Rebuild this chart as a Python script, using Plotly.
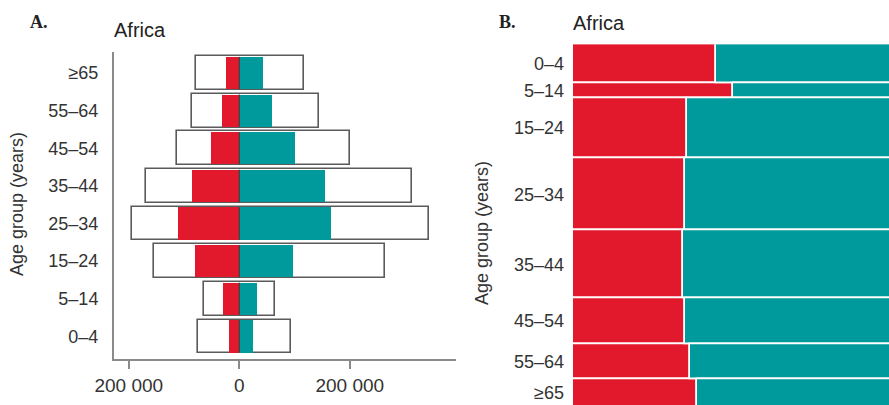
import plotly.graph_objects as go

# Age groups, youngest first
age_groups = ["0–4", "5–14", "15–24", "25–34", "35–44", "45–54", "55–64", "≥65"]

# Panel A: population (outline boxes) and cases (filled bars), left / right of zero
population_left = [74700, 64400, 154400, 193600, 169400, 112000, 85600, 78400]
population_right = [93000, 65200, 263200, 344000, 312000, 200400, 144200, 117100]
cases_left = [18600, 30000, 79600, 110400, 85600, 51800, 31900, 24100]
cases_right = [25400, 32600, 96600, 165400, 155100, 101400, 58600, 42300]

x_tickvals = [-200000, 0, 200000]
x_ticktext = ["200 000", "0", "200 000"]

# Panel B: share of each age group (row height, %) and red share within the row
group_share = [10.7, 4.1, 16.5, 20.1, 18.5, 12.7, 9.6, 7.8]
red_share = [0.42, 0.47, 0.335, 0.33, 0.325, 0.33, 0.345, 0.365]

RED = "#e2192c"
TEAL = "#009a9d"
AXIS = "#8a8a8a"
TEXT = "#333333"
FONT = "Liberation Sans, Arial, sans-serif"

W, H = 889, 405
BAR_W = 0.86

fig = go.Figure()

# ---- Panel A: pyramid ----
pos = list(range(len(age_groups)))
box_total = [l + r for l, r in zip(population_left, population_right)]
fig.add_trace(go.Bar(
    y=pos, x=box_total, base=[-v for v in population_left], orientation="h",
    width=0.9, marker=dict(color="white", line=dict(color="#5a5a5a", width=1.6)),
    xaxis="x", yaxis="y", showlegend=False, name="Population",
))
fig.add_trace(go.Bar(
    y=pos, x=cases_left, base=[-v for v in cases_left], orientation="h",
    width=BAR_W, marker=dict(color=RED, line=dict(width=0)),
    xaxis="x", yaxis="y", showlegend=False, name="Cases (left)",
))
fig.add_trace(go.Bar(
    y=pos, x=cases_right, base=0, orientation="h",
    width=BAR_W, marker=dict(color=TEAL, line=dict(width=0)),
    xaxis="x", yaxis="y", showlegend=False, name="Cases (right)",
))
# thin dark divider at zero inside each row
sep_x, sep_y = [], []
for p in pos:
    sep_x += [0, 0, None]
    sep_y += [p - BAR_W / 2, p + BAR_W / 2, None]
fig.add_trace(go.Scatter(
    x=sep_x, y=sep_y, mode="lines", line=dict(color="#3a3a3a", width=1),
    xaxis="x", yaxis="y", showlegend=False, hoverinfo="skip",
))

# ---- Panel B: variable-height rows ----
centers = []
acc = 0.0
for h in group_share:
    centers.append(acc + h / 2)
    acc += h
teal_share = [1 - s for s in red_share]
fig.add_trace(go.Bar(
    y=centers, x=red_share, base=0, orientation="h", width=group_share,
    marker=dict(color=RED, line=dict(color="white", width=1.6)),
    xaxis="x2", yaxis="y2", showlegend=False, name="Red share",
))
fig.add_trace(go.Bar(
    y=centers, x=teal_share, base=red_share, orientation="h", width=group_share,
    marker=dict(color=TEAL, line=dict(color="white", width=1.6)),
    xaxis="x2", yaxis="y2", showlegend=False, name="Teal share",
))

tickfont = dict(family=FONT, size=18, color=TEXT)

fig.update_layout(
    width=W, height=H,
    margin=dict(l=0, r=0, t=0, b=0),
    paper_bgcolor="white", plot_bgcolor="white",
    barmode="overlay", bargap=0,
    xaxis=dict(
        domain=[114 / W, 456 / W], range=[-226800, 392200],
        tickvals=x_tickvals, ticktext=x_ticktext,
        showline=True, linecolor=AXIS, linewidth=2,
        ticks="outside", ticklen=8, tickwidth=2, tickcolor=AXIS,
        showgrid=False, zeroline=False, tickfont=dict(family=FONT, size=19, color=TEXT),
        anchor="y", automargin=False,
    ),
    yaxis=dict(
        domain=[(H - 359) / H, (H - 52) / H], range=[-0.6, 7.56],
        tickvals=pos, ticktext=age_groups,
        showline=True, linecolor=AXIS, linewidth=2,
        ticks="", showgrid=False, zeroline=False, tickfont=tickfont,
        ticklabelstandoff=10, anchor="x", automargin=False,
    ),
    xaxis2=dict(
        domain=[573 / W, 1.0], range=[0, 0.93],
        showticklabels=False, ticks="", showline=False,
        showgrid=False, zeroline=False, anchor="y2", automargin=False,
    ),
    yaxis2=dict(
        domain=[0, (H - 44.2) / H], range=[99.45, 0],
        tickvals=centers, ticktext=age_groups,
        ticks="", showline=False, showgrid=False, zeroline=False,
        tickfont=tickfont, ticklabelstandoff=8, anchor="x2", automargin=False,
    ),
)

def paper_text(text, x, y, size, family=FONT, bold=False, angle=0, color="#222222", xanchor="left"):
    fig.add_annotation(
        text=f"<b>{text}</b>" if bold else text,
        xref="paper", yref="paper", x=x / W, y=(H - y) / H,
        xanchor=xanchor, yanchor="middle", showarrow=False, textangle=angle,
        font=dict(family=family, size=size, color=color),
    )

SERIF = "Liberation Serif, DejaVu Serif, serif"
paper_text("A.", 28, 22, 18, family=SERIF, bold=True)
paper_text("Africa", 112, 30, 20)
paper_text("B.", 497, 22, 18, family=SERIF, bold=True)
paper_text("Africa", 571, 23, 20)
paper_text("Age group (years)", 17, 204, 18, angle=-90, color=TEXT, xanchor="center")
paper_text("Age group (years)", 482, 233, 18, angle=-90, color=TEXT, xanchor="center")

fig.write_html("out.html")
